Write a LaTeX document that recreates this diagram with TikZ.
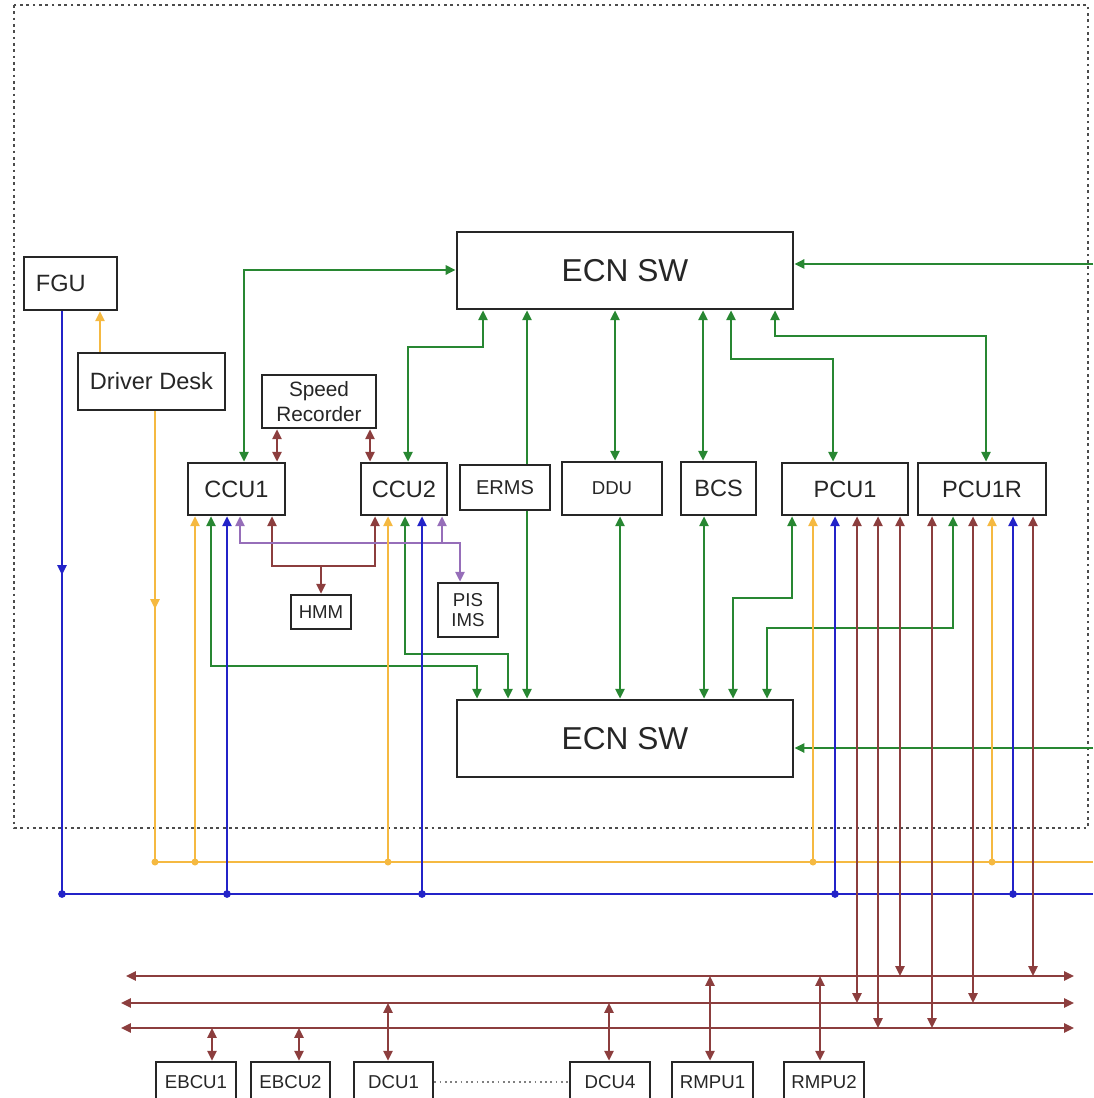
\documentclass[tikz,border=0pt]{standalone}
\usepackage{fontspec}
\setmainfont{Liberation Sans}
\usetikzlibrary{arrows.meta}
\definecolor{ecngreen}{RGB}{40,135,50}
\definecolor{mvbbrown}{RGB}{140,62,62}
\definecolor{wtbyellow}{RGB}{245,185,65}
\definecolor{wtbblue}{RGB}{35,35,200}
\definecolor{hmmpurple}{RGB}{150,110,185}
\tikzset{
  unitbox/.style={draw=black!85, line width=0.75pt, fill=white, inner sep=0pt, align=center, text=black!85},
  bigunit/.style={unitbox, font=\fontsize{9}{10}\selectfont},
  midunit/.style={unitbox, font=\fontsize{6.7}{8}\selectfont},
  smallunit/.style={unitbox, font=\fontsize{5.3}{5.8}\selectfont},
  link/.style={line width=0.6pt},
  both/.style={link, {Triangle[length=2.8pt,width=2.6pt]}-{Triangle[length=2.8pt,width=2.6pt]}},
  tohead/.style={link, -{Triangle[length=2.8pt,width=2.6pt]}},
  framebox/.style={draw=black!70, densely dotted, line width=0.8pt}
}
\begin{document}
\begin{tikzpicture}[x=0.01cm, y=-0.01cm]
  \useasboundingbox (0,0) rectangle (1093,1098);
  \clip (0,0) rectangle (1093,1098);
  % car boundary
  \draw[framebox] (14,5) rectangle (1088,828);

  % units
  \node[bigunit, minimum width=3.36cm, minimum height=0.77cm] (ecnA) at (625,270.5) {ECN SW};
  \node[bigunit, minimum width=3.36cm, minimum height=0.77cm] (ecnB) at (625,738.5) {ECN SW};
  \node[midunit, minimum width=0.93cm, minimum height=0.53cm, text width=0.93cm, align=left] (fgu) at (70.5,283.5) {\hspace*{0.12cm}FGU};
  \node[midunit, minimum width=1.47cm, minimum height=0.57cm] (desk) at (151.5,381.5) {Driver Desk};
  \node[unitbox, font=\fontsize{5.9}{7.1}\selectfont, minimum width=1.14cm, minimum height=0.53cm] (rec) at (319,401.5) {Speed\\Recorder};
  \node[midunit, minimum width=0.97cm, minimum height=0.52cm] (ccuA) at (236.5,489) {CCU1};
  \node[midunit, minimum width=0.86cm, minimum height=0.52cm] (ccuB) at (404,489) {CCU2};
  \node[smallunit, font=\fontsize{5.7}{6.5}\selectfont, minimum width=0.90cm, minimum height=0.45cm] (erms) at (505,487.5) {ERMS};
  \node[smallunit, minimum width=1.00cm, minimum height=0.53cm] (ddu) at (612,488.5) {DDU};
  \node[midunit, minimum width=0.75cm, minimum height=0.53cm] (bcs) at (718.5,488.5) {BCS};
  \node[midunit, minimum width=1.26cm, minimum height=0.52cm] (pcuA) at (845,489) {PCU1};
  \node[midunit, minimum width=1.28cm, minimum height=0.52cm] (pcuB) at (982,489) {PCU1R};
  \node[smallunit, minimum width=0.60cm, minimum height=0.34cm] (hmm) at (321,612) {HMM};
  \node[smallunit, minimum width=0.60cm, minimum height=0.54cm] (pis) at (468,610) {PIS\\IMS};
  \node[smallunit, minimum width=0.80cm, minimum height=0.40cm] (ebcuA) at (196,1082) {EBCU1};
  \node[smallunit, minimum width=0.79cm, minimum height=0.40cm] (ebcuB) at (290.5,1082) {EBCU2};
  \node[smallunit, minimum width=0.79cm, minimum height=0.40cm] (dcuA) at (393.5,1082) {DCU1};
  \node[smallunit, minimum width=0.80cm, minimum height=0.40cm] (dcuD) at (610,1082) {DCU4};
  \node[smallunit, minimum width=0.81cm, minimum height=0.40cm] (rmpuA) at (712.5,1082) {RMPU1};
  \node[smallunit, minimum width=0.80cm, minimum height=0.40cm] (rmpuB) at (824,1082) {RMPU2};

  % bus ends
  \coordinate (ecnLinkA) at (1093,264);
  \coordinate (ecnLinkB) at (1093,748);
  \coordinate (wtbY) at (155,862);
  \coordinate (wtbYe) at (1093,862);
  \coordinate (wtbB) at (62,894);
  \coordinate (wtbBe) at (1093,894);
  \coordinate (mvbA) at (126,976);
  \coordinate (mvbAe) at (1074,976);
  \coordinate (mvbB) at (121,1003);
  \coordinate (mvbBe) at (1074,1003);
  \coordinate (mvbC) at (121,1028);
  \coordinate (mvbCe) at (1074,1028);

  % ethernet, upper switch
  \begin{scope}[ecngreen]
    \draw[both] (ccuA.north -| 244,0) |- (ecnA.west |- 0,270);
    \draw[both] (ccuB.north -| 408,0) |- (483,347) -- (ecnA.south -| 483,0);
    \draw[tohead] (erms.north -| 527,0) -- (ecnA.south -| 527,0);
    \draw[both] (ddu.north -| 615,0) -- (ecnA.south -| 615,0);
    \draw[both] (bcs.north -| 703,0) -- (ecnA.south -| 703,0);
    \draw[both] (pcuA.north -| 833,0) |- (731,359) -- (ecnA.south -| 731,0);
    \draw[both] (pcuB.north -| 986,0) |- (775,336) -- (ecnA.south -| 775,0);
    \draw[tohead] (ecnLinkA) -- (ecnA.east |- ecnLinkA);
  % ethernet, lower switch
    \draw[both] (ccuA.south -| 211,0) |- (477,666) -- (ecnB.north -| 477,0);
    \draw[both] (ccuB.south -| 405,0) |- (508,654) -- (ecnB.north -| 508,0);
    \draw[tohead] (erms.south -| 527,0) -- (ecnB.north -| 527,0);
    \draw[both] (ddu.south -| 620,0) -- (ecnB.north -| 620,0);
    \draw[both] (bcs.south -| 704,0) -- (ecnB.north -| 704,0);
    \draw[both] (pcuA.south -| 792,0) |- (733,598) -- (ecnB.north -| 733,0);
    \draw[both] (pcuB.south -| 953,0) |- (767,628) -- (ecnB.north -| 767,0);
    \draw[tohead] (ecnLinkB) -- (ecnB.east |- ecnLinkB);
  \end{scope}

  % local links round the CCUs
  \draw[both, mvbbrown] (rec.south -| 277,0) -- (ccuA.north -| 277,0);
  \draw[both, mvbbrown] (rec.south -| 370,0) -- (ccuB.north -| 370,0);
  \draw[both, mvbbrown] (ccuA.south -| 272,0) |- (375,566) -- (ccuB.south -| 375,0);
  \draw[tohead, mvbbrown] (hmm.north |- 0,566) -- (hmm.north);
  \draw[both, hmmpurple] (ccuA.south -| 240,0) |- (460,543) -- (pis.north -| 460,0);
  \draw[tohead, hmmpurple] (442,543) -- (ccuB.south -| 442,0);

  % train bus, yellow
  \draw[tohead, wtbyellow] (desk.north -| 100,0) -- (fgu.south -| 100,0);
  \draw[tohead, wtbyellow] (desk.south -| 155,0) -- (155,609);
  \draw[link, wtbyellow] (155,600) -- (wtbY) -- (wtbYe);
  \foreach \x/\n in {195/ccuA, 388/ccuB, 813/pcuA, 992/pcuB}
    \draw[tohead, wtbyellow] (wtbY -| \x,0) -- (\n.south -| \x,0);
  \foreach \x in {155,195,388,813,992}
    \fill[wtbyellow] (wtbY -| \x,0) circle (1pt);

  % train bus, blue
  \draw[tohead, wtbblue] (fgu.south -| 62,0) -- (62,575);
  \draw[link, wtbblue] (62,565) -- (wtbB) -- (wtbBe);
  \foreach \x/\n in {227/ccuA, 422/ccuB, 835/pcuA, 1013/pcuB}
    \draw[tohead, wtbblue] (wtbB -| \x,0) -- (\n.south -| \x,0);
  \foreach \x in {62,227,422,835,1013}
    \fill[wtbblue] (wtbB -| \x,0) circle (1.1pt);

  % vehicle bus
  \draw[both, mvbbrown] (mvbA) -- (mvbAe);
  \draw[both, mvbbrown] (mvbB) -- (mvbBe);
  \draw[both, mvbbrown] (mvbC) -- (mvbCe);
  \foreach \x/\n/\bus in {857/pcuA/mvbB, 878/pcuA/mvbC, 900/pcuA/mvbA, 932/pcuB/mvbC, 973/pcuB/mvbB, 1033/pcuB/mvbA}
    \draw[both, mvbbrown] (\n.south -| \x,0) -- (\bus -| \x,0);
  \foreach \n/\x/\bus in {ebcuA/212/mvbC, ebcuB/299/mvbC, dcuA/388/mvbB, dcuD/609/mvbB, rmpuA/710/mvbA, rmpuB/820/mvbA}
    \draw[both, mvbbrown] (\bus -| \x,0) -- (\n.north -| \x,0);
  \draw[black!50, densely dotted, line width=0.5pt] (dcuA.east |- 0,1082) -- (dcuD.west |- 0,1082);
\end{tikzpicture}
\end{document}
